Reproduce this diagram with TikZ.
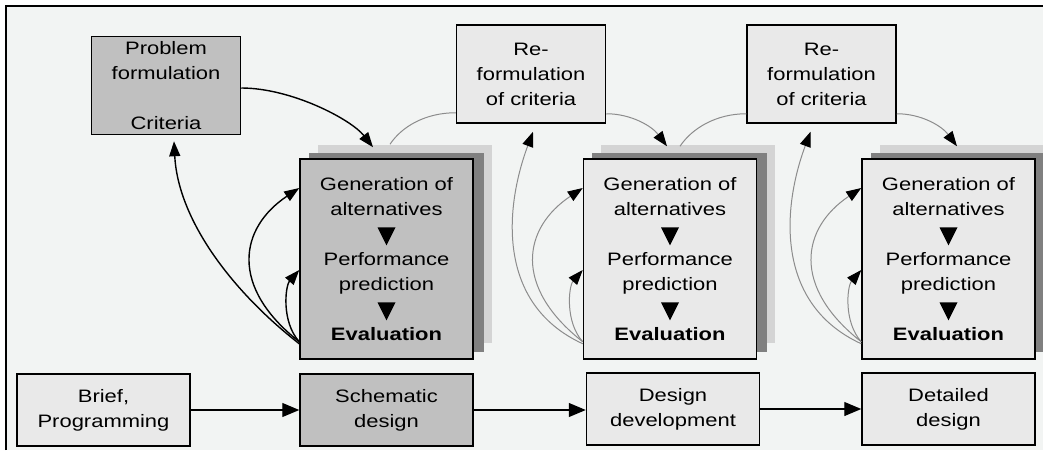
\documentclass[tikz,border=0pt]{standalone}
\usepackage{fontspec}
\setmainfont{Liberation Sans}[FakeStretch=1.22]
\usetikzlibrary{calc,arrows.meta}

\definecolor{bggray}{HTML}{F2F4F3}
\definecolor{darkbox}{HTML}{C0C0C0}
\definecolor{lightbox}{HTML}{E9E9E9}
\definecolor{sheetdark}{HTML}{808080}
\definecolor{sheetlight}{HTML}{D4D4D4}
\definecolor{linegray}{HTML}{8C8C8C}

\newcommand{\downtri}{\tikz[baseline=0pt]\fill (-9pt,13pt) -- (9pt,13pt) -- (0pt,-5pt) -- cycle;}
\newcommand{\genlines}{Generation of\\alternatives\\\downtri\\Performance\\prediction\\\downtri\\\textbf{Evaluation}}

\tikzset{
    box/.style={draw=black, line width=1.5pt, align=center, inner sep=0pt,
        font=\fontsize{18}{25}\selectfont},
    darkfill/.style={fill=darkbox},
    lightfill/.style={fill=lightbox},
    critbox/.style={box, minimum width=149pt, minimum height=98pt},
    genbox/.style={box, minimum width=173pt, minimum height=200pt},
    phasebox/.style={box, minimum width=173pt, minimum height=72pt},
    headtip/.tip={Triangle[length=15pt,width=11pt,color=black,fill=black]},
    flow/.style={line width=1.2pt, -{Triangle[length=17pt,width=14pt]}},
    loopblack/.style={line width=1.4pt, draw=black, -headtip},
    topgray/.style={line width=1pt, draw=linegray},
    loopgray/.style={topgray, -headtip}
}

\begin{document}
\begin{tikzpicture}[x=1pt, y=-1pt]
    \useasboundingbox (0,0) rectangle (1043,450);

    % frame
    \fill[bggray] (6,6) rectangle (1043,450);
    \draw[line width=2pt]
        (6,450) --
        (6,6) --
        (1043,6);

    % stacked sheets behind the generation boxes
    \coordinate (g1) at (386.5,259);
    \coordinate (g2) at (670,259);
    \coordinate (g3) at (948.5,259);
    \foreach \g in {g1,g2,g3} {
        \fill[sheetlight] ($(\g)+(-69,-114)$) rectangle ($(\g)+(105,84)$);
        \fill[sheetdark] ($(\g)+(-78,-106)$) rectangle ($(\g)+(97,93)$);
    }

    % criteria
    \node[critbox, darkfill] (prob) at (166,85.5) {Problem\\formulation\\[25pt]Criteria};
    \node[critbox, lightfill] (ref1) at (531,74) {Re-\\formulation\\of criteria};
    \node[critbox, lightfill] (ref2) at (821.5,74) {Re-\\formulation\\of criteria};

    % generation / prediction / evaluation
    \node[genbox, darkfill] (gen1) at (g1) {\genlines};
    \node[genbox, lightfill] (gen2) at (g2) {\genlines};
    \node[genbox, lightfill] (gen3) at (g3) {\genlines};

    % design phases
    \node[phasebox, lightfill] (brief) at (103.5,410) {Brief,\\Programming};
    \node[phasebox, darkfill] (schem) at (386.5,410) {Schematic\\design};
    \node[phasebox, lightfill] (dev) at (673,409) {Design\\development};
    \node[phasebox, lightfill] (det) at (948.5,409) {Detailed\\design};

    \draw[flow] (brief) -- (schem);
    \draw[flow] (schem.east) -- (schem.east -| dev.west);
    \draw[flow] (dev.east) -- (dev.east -| det.west);

    % criteria into the first loop
    \draw[loopblack]
        ($(prob.east)+(0,2.5)$) .. controls +(50,0) and +(-22,-28) ..
        ($(gen1.north)+(-13.5,-11)$);

    % first loop
    \draw[loopblack]
        ($(gen1.south west)+(0,-16)$) .. controls +(-68,-53) and +(4,78) ..
        ($(prob.south)+(8,6)$);
    \draw[loopblack]
        ($(gen1.south west)+(0,-18)$) .. controls +(-70,-55) and +(-60,40) ..
        ($(gen1.west)+(0,-71)$);
    \draw[loopblack]
        ($(gen1.south west)+(0,-18)$) .. controls +(-18,-20) and +(-14,16) ..
        ($(gen1.west)+(0,11)$);

    % reformulation between the loops
    \draw[topgray]
        ($(gen1.north)+(3.5,-14)$) .. controls +(12,-18) and +(-30,0) ..
        ($(ref1.south west)+(0,-11)$);
    \draw[loopgray]
        ($(ref1.south east)+(0,-10)$) .. controls +(25,0) and +(-15,-20) ..
        ($(gen2.north)+(-3,-12)$);
    \draw[topgray]
        ($(gen2.north)+(10,-12)$) .. controls +(12,-18) and +(-30,0) ..
        ($(ref2.south west)+(0,-10)$);
    \draw[loopgray]
        ($(ref2.south east)+(0,-10)$) .. controls +(25,0) and +(-15,-20) ..
        ($(gen3.north)+(8.5,-12)$);

    % later loops
    \foreach \g/\r/\dx in {gen2/ref1/2, gen3/ref2/-11} {
        \draw[loopgray]
            ($(\g.south west)+(0,-16)$) .. controls +(-87,-40) and +(-28,75) ..
            ($(\r.south)+(\dx,8)$);
        \draw[loopgray]
            ($(\g.south west)+(0,-18)$) .. controls +(-70,-55) and +(-60,40) ..
            ($(\g.west)+(0,-71)$);
        \draw[loopgray]
            ($(\g.south west)+(0,-18)$) .. controls +(-18,-20) and +(-14,16) ..
            ($(\g.west)+(0,11)$);
    }

\end{tikzpicture}
\end{document}
